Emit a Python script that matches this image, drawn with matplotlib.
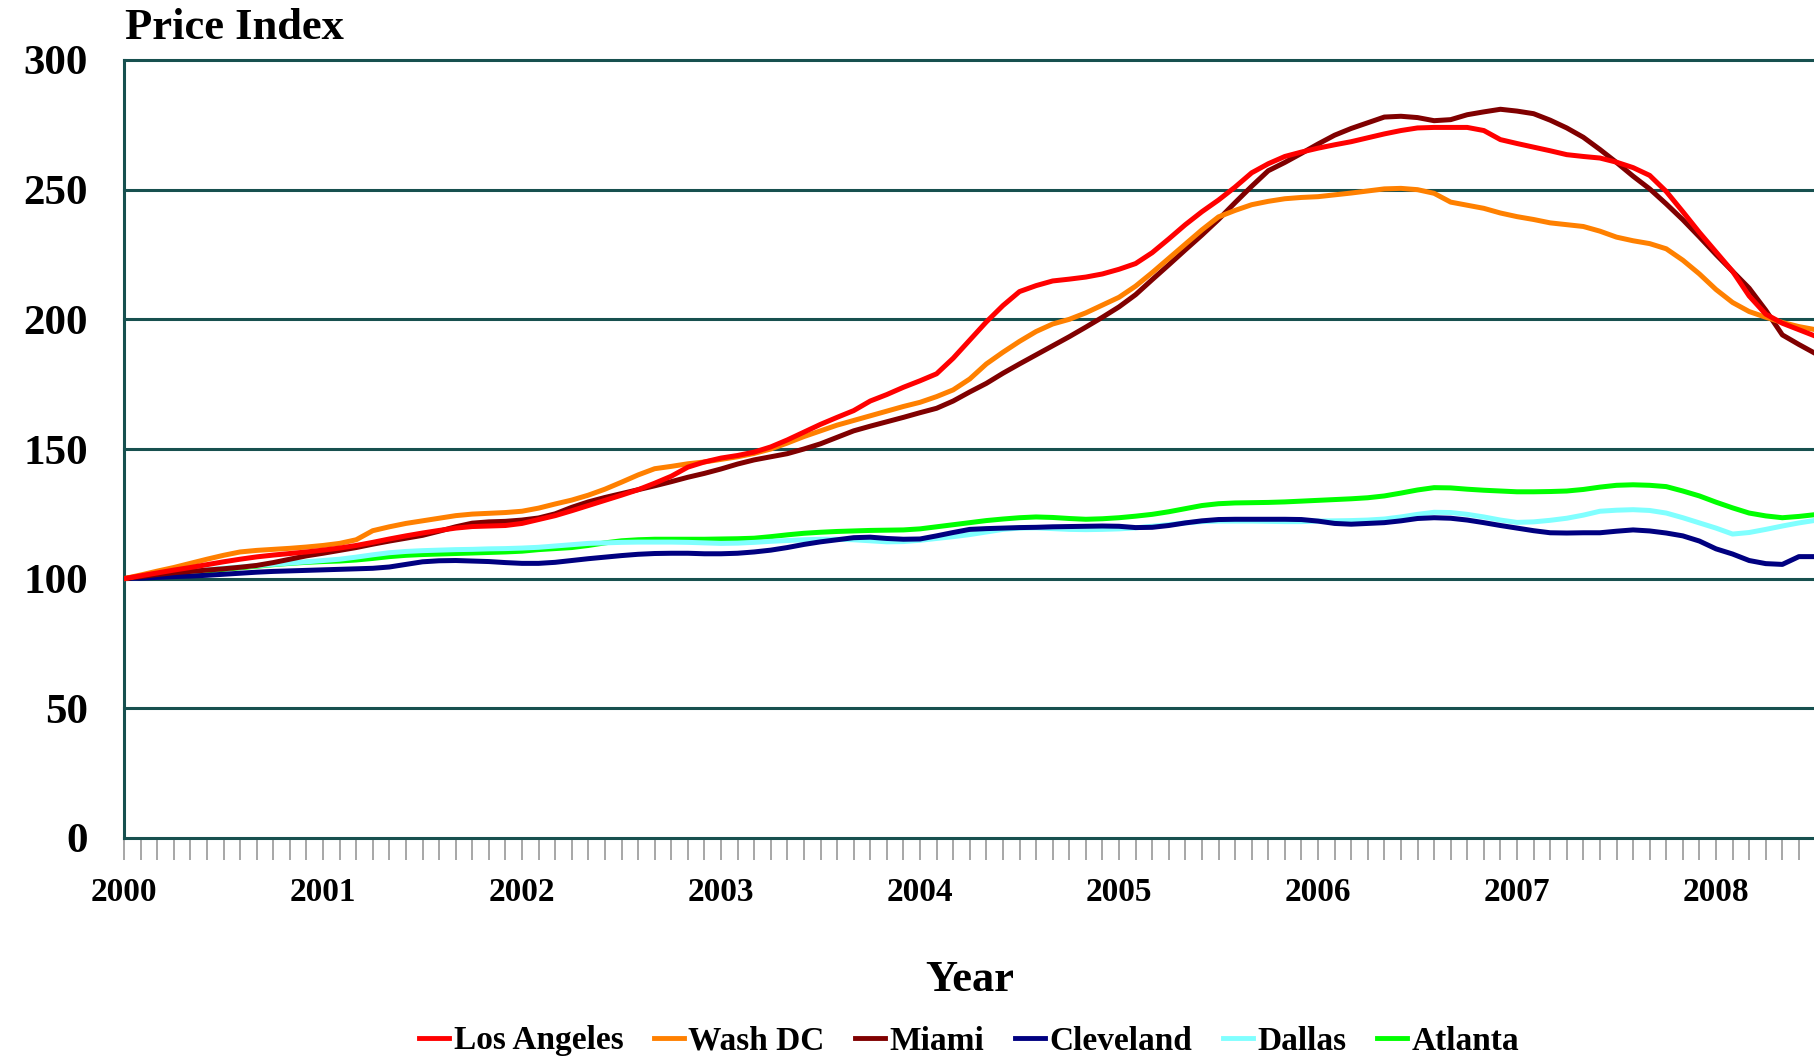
import matplotlib
matplotlib.use("Agg")
import matplotlib.pyplot as plt
import numpy as np
from matplotlib.ticker import MultipleLocator, FixedLocator

# Case-Shiller style index, Jan 2000 = 100, monthly Jan 2000 - Jul 2008
los_angeles = [
    100, 101.1, 102.2, 103.3, 104.3, 105.4, 106.5, 107.5, 108.4, 109.1, 109.7, 110.3,
    111.0, 111.8, 112.8, 114.0, 115.3, 116.5, 117.6, 118.6, 119.5, 120.1, 120.3, 120.5,
    121.3, 122.8, 124.3, 126.2, 128.2, 130.2, 132.2, 134.3, 136.8, 139.5, 143.0, 145.0,
    146.5, 147.5, 148.8, 150.8, 153.5, 156.5, 159.5, 162.2, 164.8, 168.5, 171.0, 173.8,
    176.3, 179.0, 185.0, 192.0, 199.0, 205.3, 210.7, 213.0, 214.8, 215.5, 216.3, 217.5,
    219.3, 221.5, 225.7, 231.0, 236.5, 241.5, 246.0, 251.0, 256.5, 260.0, 262.8, 264.5,
    266.0, 267.3, 268.5, 270.0, 271.5, 272.8, 273.8, 274.0, 274.0, 274.0, 272.8, 269.3,
    267.8, 266.4, 265.0, 263.5, 262.8, 262.2, 260.6, 258.5, 255.5, 249.3, 241.5, 233.5,
    226.0, 218.5, 209.0, 202.0, 198.5, 196.0, 193.5]
wash_dc = [
    100, 101.4, 102.9, 104.3, 105.9, 107.5, 109.0, 110.3, 110.9, 111.3, 111.7, 112.2,
    112.8, 113.6, 115.0, 118.5, 120.0, 121.3, 122.3, 123.3, 124.3, 124.9, 125.2, 125.5,
    126.0, 127.2, 128.8, 130.3, 132.2, 134.5, 137.2, 140.0, 142.4, 143.3, 144.3, 145.0,
    146.0, 147.0, 148.3, 150.0, 152.3, 154.8, 157.0, 159.2, 161.0, 162.8, 164.6, 166.4,
    168.0, 170.2, 172.8, 177.0, 182.8, 187.3, 191.5, 195.3, 198.2, 200.0, 202.5, 205.5,
    208.5, 212.8, 218.0, 223.5, 229.0, 234.5, 239.5, 242.0, 244.2, 245.5, 246.5, 247.0,
    247.3, 248.0, 248.7, 249.5, 250.3, 250.5, 250.0, 248.6, 245.2, 244.0, 242.8, 241.0,
    239.6, 238.5, 237.2, 236.5, 235.8, 234.0, 231.7, 230.3, 229.2, 227.2, 222.8, 217.5,
    211.5, 206.5, 203.0, 200.8, 198.8, 197.2, 196.0]
miami = [
    100, 100.8, 101.6, 102.3, 102.8, 103.3, 103.8, 104.4, 105.1, 106.2, 107.5, 108.8,
    109.8, 110.9, 112.0, 113.3, 114.5, 115.6, 116.7, 118.3, 120.0, 121.4, 121.9, 122.1,
    122.6, 123.4, 125.0, 127.5, 129.6, 131.3, 132.8, 134.3, 135.8, 137.4, 139.1, 140.6,
    142.3, 144.2, 145.8, 147.0, 148.2, 150.0, 152.0, 154.5, 157.0, 158.8, 160.5, 162.2,
    164.0, 165.7, 168.5, 172.0, 175.3, 179.2, 182.8, 186.3, 189.8, 193.3, 197.0, 200.8,
    204.8, 209.5, 215.3, 221.0, 226.8, 232.5, 238.5, 245.0, 251.3, 257.3, 260.5, 264.0,
    267.6, 271.0, 273.6, 275.8, 278.0, 278.3, 277.8, 276.6, 277.0, 278.9, 280.0, 281.0,
    280.3, 279.3, 276.8, 273.8, 270.2, 265.5, 260.5, 255.2, 250.3, 244.5, 238.4, 231.8,
    225.0, 218.5, 212.0, 203.5, 194.0, 190.3, 186.8]
cleveland = [
    100, 100.2, 100.5, 100.8, 101.0, 101.3, 101.7, 102.1, 102.5, 102.8, 103.0, 103.2,
    103.4, 103.6, 103.8, 104.0, 104.5, 105.5, 106.5, 106.9, 107.0, 106.8, 106.6, 106.2,
    105.9, 105.9, 106.3, 107.0, 107.7, 108.3, 108.9, 109.4, 109.7, 109.8, 109.8, 109.6,
    109.6, 109.8, 110.3, 111.0, 112.0, 113.2, 114.2, 115.0, 115.8, 116.0, 115.5, 115.2,
    115.3, 116.5, 117.8, 119.0, 119.3, 119.5, 119.7, 119.8, 120.0, 120.1, 120.2, 120.3,
    120.2, 119.7, 119.8, 120.5, 121.5, 122.3, 122.8, 122.9, 122.9, 122.9, 122.9, 122.8,
    122.2, 121.3, 121.0, 121.3, 121.6, 122.3, 123.2, 123.5, 123.3, 122.6, 121.6, 120.5,
    119.5, 118.5, 117.7, 117.6, 117.7, 117.7, 118.3, 118.8, 118.4, 117.6, 116.5, 114.5,
    111.5, 109.5, 107.0, 105.8, 105.5, 108.5, 108.5]
dallas = [
    100, 100.5, 101.1, 101.8, 102.6, 103.4, 104.0, 104.5, 105.0, 105.5, 106.0, 106.5,
    107.0, 107.5, 108.3, 109.2, 110.0, 110.5, 110.8, 111.0, 111.2, 111.3, 111.5, 111.6,
    111.8, 112.1, 112.6, 113.1, 113.6, 113.8, 114.0, 114.1, 114.1, 114.1, 114.0, 113.8,
    113.6, 113.7, 114.0, 114.4, 114.7, 115.0, 115.2, 115.2, 115.0, 114.6, 114.2, 114.3,
    114.8, 115.5, 116.2, 117.0, 118.0, 119.0, 119.5, 119.6, 119.3, 119.0, 118.9, 119.0,
    119.2, 119.6, 120.2, 120.8, 121.5, 122.0, 122.2, 122.2, 122.2, 122.1, 122.0, 122.0,
    122.2, 122.3, 122.4, 122.6, 123.0, 123.8, 124.8, 125.6, 125.5, 124.8, 123.8, 122.6,
    121.7, 121.9, 122.5, 123.3, 124.5, 126.0, 126.4, 126.6, 126.3, 125.3, 123.5, 121.5,
    119.5, 117.2, 117.8, 119.0, 120.3, 121.5, 122.5]
atlanta = [
    100, 100.6, 101.2, 101.8, 102.4, 103.0, 103.6, 104.2, 104.8, 105.4, 105.9, 106.3,
    106.6, 106.8, 107.2, 107.8, 108.5, 109.0, 109.3, 109.5, 109.7, 109.9, 110.1, 110.3,
    110.6, 111.2, 111.6, 112.0, 112.8, 113.8, 114.6, 115.0, 115.2, 115.2, 115.2, 115.2,
    115.3, 115.4, 115.6, 116.2, 116.9, 117.5, 117.9, 118.2, 118.4, 118.6, 118.7, 118.8,
    119.2, 120.0, 120.8, 121.6, 122.4, 123.0, 123.5, 123.8, 123.6, 123.2, 122.9, 123.1,
    123.5, 124.1, 124.8, 125.8, 127.0, 128.2, 128.9, 129.2, 129.3, 129.4, 129.6, 129.9,
    130.2, 130.5, 130.8, 131.2, 131.9, 133.0, 134.2, 135.1, 135.0, 134.5, 134.1, 133.8,
    133.5, 133.5, 133.6, 133.8, 134.4, 135.3, 136.0, 136.2, 136.0, 135.5, 133.8, 131.9,
    129.5, 127.3, 125.3, 124.2, 123.5, 124.0, 124.7]

names = ["Los Angeles", "Wash DC", "Miami", "Cleveland", "Dallas", "Atlanta"]
colors = ["#ff0000", "#ff8000", "#800000", "#000080", "#80ffff", "#00ff00"]
series = [los_angeles, wash_dc, miami, cleveland, dallas, atlanta]
years = list(range(2000, 2009))

grid_color = "#17504f"
serif = "Liberation Serif"

fig = plt.figure(figsize=(18.14, 10.59), dpi=100)
ax = fig.add_axes([124 / 1814, 1 - 838 / 1059, 1 - 124 / 1814, 778 / 1059])

x = 2000 + np.arange(len(los_angeles)) / 12.0
n = len(series)
for k, (name, col, vals) in enumerate(zip(names, colors, series)):
    ax.plot(x, vals, color=col, lw=3.6, label=name, zorder=10 + n - k)

ax.set_xlim(2000, 2000 + (1814 - 124) / 199.0)
ax.set_ylim(0, 300)
ax.set_yticks(range(0, 301, 50))
for v in range(50, 301, 50):
    ax.axhline(v, color=grid_color, lw=2.2, zorder=1, clip_on=False)

ax.xaxis.set_major_locator(FixedLocator(years))
ax.xaxis.set_minor_locator(MultipleLocator(1 / 12.0))
ax.tick_params(axis="x", which="both", direction="out", length=16, width=1.1,
               color="#909090", pad=12)
ax.tick_params(axis="x", which="major", labelsize=24)
ax.tick_params(axis="y", length=0, pad=26, labelsize=31)
for lab in ax.get_xticklabels() + ax.get_yticklabels():
    lab.set_fontfamily(serif)
    lab.set_fontweight("bold")

for s in ["top", "right"]:
    ax.spines[s].set_visible(False)
for s in ["left", "bottom"]:
    ax.spines[s].set_color(grid_color)
    ax.spines[s].set_linewidth(2.2)

fig.text(125 / 1814, 1 - 28 / 1059, "Price Index", fontsize=32, fontweight="bold",
         family=serif, ha="left", va="center")
fig.text(970 / 1814, 1 - 980 / 1059, "Year", fontsize=32, fontweight="bold",
         family=serif, ha="center", va="center")

leg = fig.legend(loc="center", bbox_to_anchor=(969 / 1814, 1 - 1041 / 1059), ncol=6,
                 frameon=False, handlelength=0.9, handletextpad=0.15,
                 columnspacing=0.9, prop={"family": serif, "weight": "bold", "size": 24})
for h in leg.get_lines():
    h.set_linewidth(3.5)

fig.savefig("out.png", dpi=100)
